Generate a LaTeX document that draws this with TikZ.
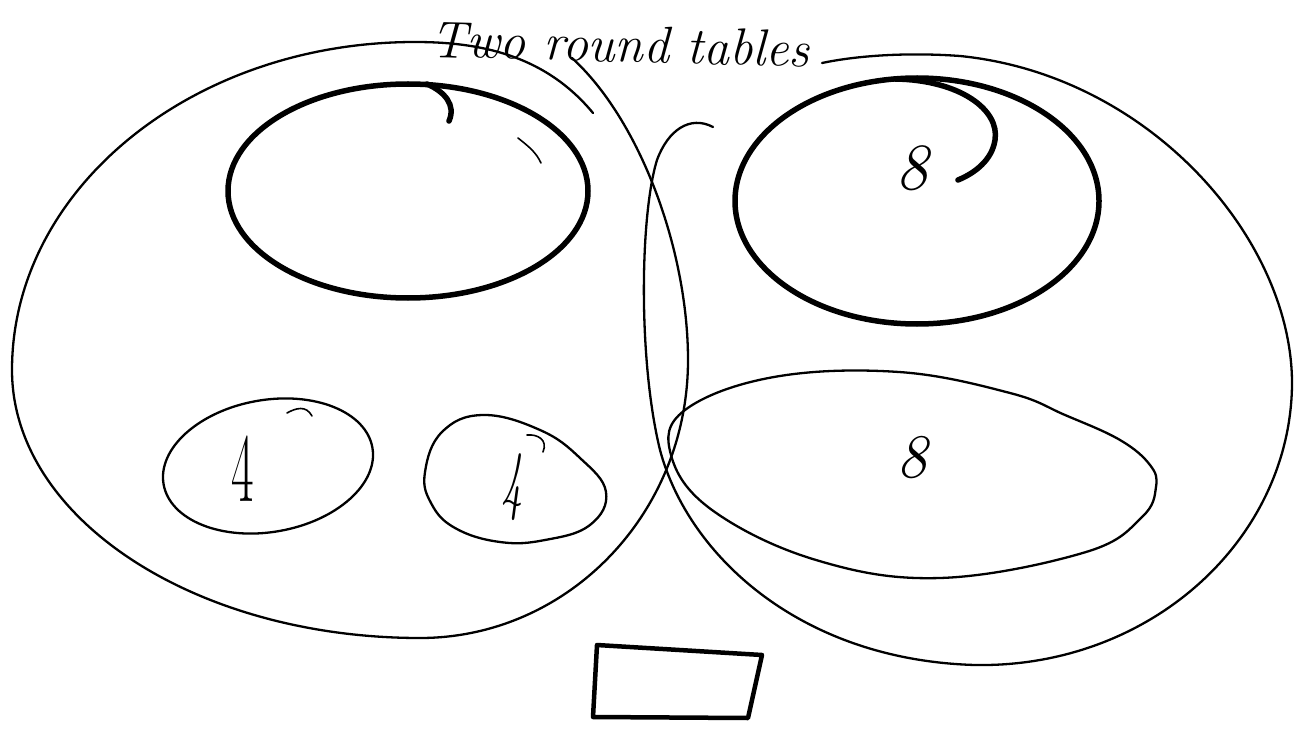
\documentclass[tikz,border=0pt]{standalone}
\usetikzlibrary{calc}
\begin{document}
\begin{tikzpicture}[x=1pt,y=-1pt,
  thinline/.style={line width=2.3pt, line cap=round, line join=round},
  tableline/.style={line width=5.5pt, line cap=round},
  boxline/.style={line width=4.5pt, line join=round},
  tick/.style={line width=1.6pt, line cap=round},
  hand/.style={inner sep=0pt, font=\itshape}]
\useasboundingbox (0,0) rectangle (1298,730);

% left room outline
\draw[thinline] (593,113) .. controls (545,55) and (480,42) .. (415,42)
  arc[start angle=270, end angle=180, x radius=403, y radius=328]
  arc[start angle=180, end angle=90, x radius=408, y radius=268]
  arc[start angle=90, end angle=0, x radius=268, y radius=278]
  .. controls (688,250) and (640,120) .. (572,58);

% right room outline
\draw[thinline] (713,127) .. controls (690,115) and (668,130) .. (657,160)
  .. controls (640,215) and (638,360) .. (660,450)
  .. controls (688,555) and (800,660) .. (975,665)
  .. controls (1150,668) and (1290,540) .. (1292,385)
  .. controls (1293,240) and (1150,75) .. (960,56)
  .. controls (905,52) and (855,56) .. (822,63);

% top-left round table
\draw[tableline] (408,191) ellipse [x radius=180, y radius=107];
\draw[tableline] (427,84) .. controls (445,92) and (456,105) .. (449,121);
\draw[tick] (518,138) .. controls (528,146) and (536,152) .. (541,163);

% top-right round table
\draw[tableline] (917,201) ellipse [x radius=182, y radius=123];
\draw[tableline] (895,79) .. controls (960,80) and (1000,110) .. (995,140)
  .. controls (992,160) and (975,173) .. (958,180);
\node[hand, font=\fontsize{66}{70}\selectfont\itshape] (eightA) at (912,168) {8};

% small tables with 4
\draw[thinline, rotate around={10:(268,466)}] (268,466) ellipse [x radius=106, y radius=66];
\draw[tick] (287,413) .. controls (296,408) and (306,405) .. (312,416);
\node[hand, font=\fontsize{98}{100}\selectfont, xscale=0.5] (fourA) at (243,469) {4};

\draw[thinline] plot[smooth cycle, tension=0.7] coordinates {
 (425,472) (442,432) (483,415) (540,430) (580,458) (606,492) (590,525) (545,540) (500,542) (455,528) (431,503)};
\draw[tick] (527,435) .. controls (538,434) and (548,440) .. (543,452);
\node[hand, font=\fontsize{78}{80}\selectfont\itshape, xscale=0.55] (fourB) at (512,487) {4};

% long table with 8
\draw[thinline] plot[smooth cycle, tension=0.65] coordinates {
 (671,455) (685,410) (774,377) (899,372) (1010,393) (1065,415) (1120,440) (1150,465) (1156,487) (1142,517) (1086,552) (940,578) (816,560) (712,510)};
\node[hand, font=\fontsize{62}{70}\selectfont\itshape] (eightB) at (912,458) {8};

% rectangle (head table)
\draw[boxline] (597,645) -- (762,655) -- (748,718) -- (593,717) -- cycle;

% title
\node[hand, font=\fontsize{52}{58}\selectfont\itshape, xscale=0.99, anchor=base west, rotate=-1.5] (title) at (430,57) {Two round tables};
\end{tikzpicture}
\end{document}
